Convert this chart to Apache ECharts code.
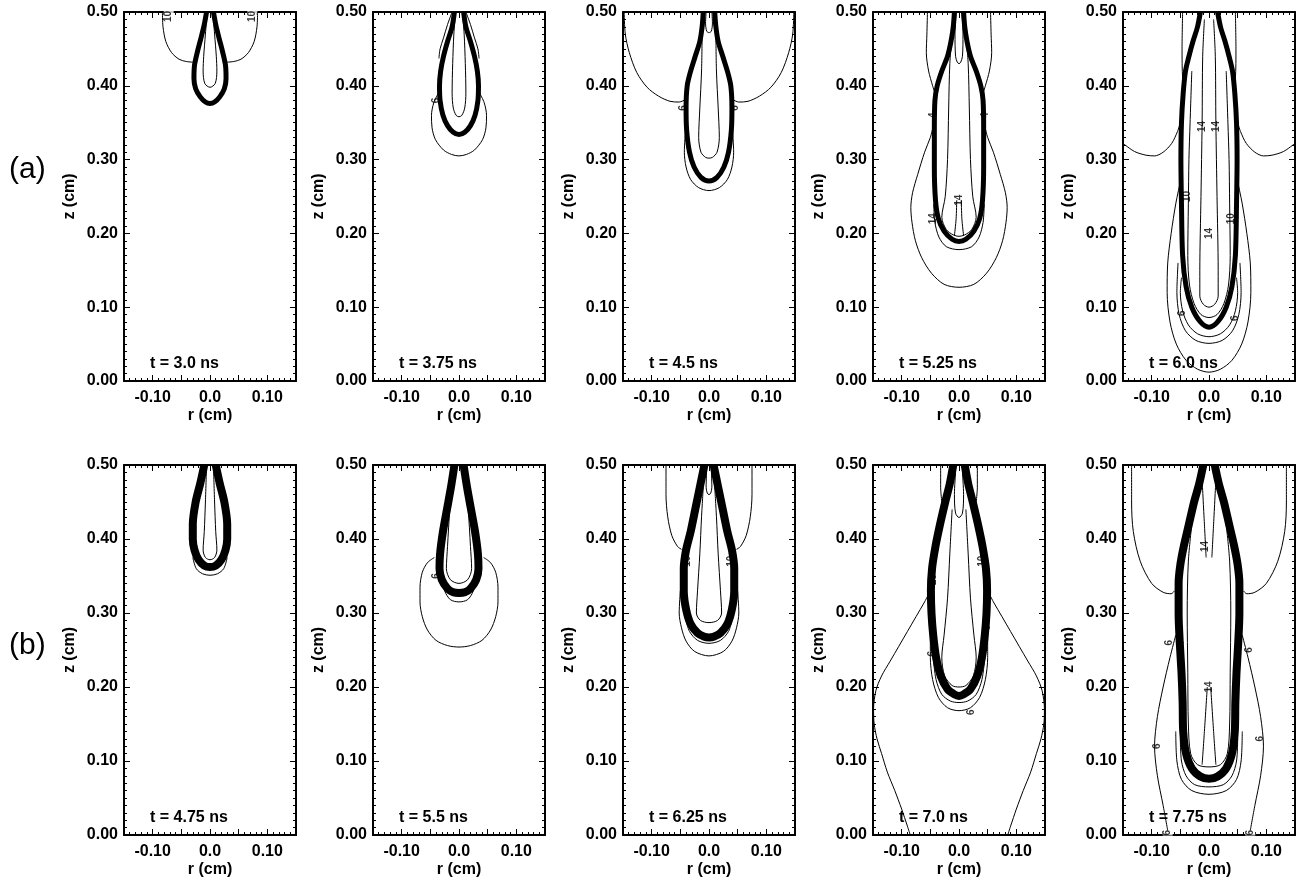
<!DOCTYPE html>
<html><head><meta charset="utf-8">
<script src="https://cdn.jsdelivr.net/npm/echarts@6/dist/echarts.min.js"></script>
<style>html,body{margin:0;padding:0;background:#fff}#c{width:1298px;height:882px}</style>
</head><body><div id="c"></div>
<script>
// ---- data (r, z in cm), half profiles r>=0 of axisymmetric contours ----
const TIMES = ['3.0', '3.75', '4.5', '5.25', '6.0', '4.75', '5.5', '6.25', '7.0', '7.75'];
const ROW_LABELS = ['(a)', '(b)'];
const R_TICK_LABELS = ['-0.10', '0.0', '0.10'];
const Z_TICK_LABELS = ['0.00', '0.10', '0.20', '0.30', '0.40', '0.50'];

// panel 1, t = 3.0 ns
const P1_THICK = [[0.006,0.5],[0.01,0.483],[0.016,0.464],[0.022,0.446],[0.027,0.428],[0.028,0.41],[0.025,0.396],[0.017,0.385],[0.008,0.378],[0,0.376]];
const P1_CLOSED = [[[0.005,0.5],[0.008,0.47],[0.011,0.44],[0.012,0.42],[0.009,0.403],[0,0.398]]];
const P1_OPEN = [[[0.083,0.5],[0.082,0.48],[0.077,0.46],[0.067,0.445],[0.054,0.436],[0.042,0.433],[0.03,0.432]]];
const P1_LABELS = [[-0.072,0.494,'10'],[0.074,0.494,'10']];
// panel 2, t = 3.75 ns
const P2_THICK = [[0.008,0.5],[0.012,0.48],[0.02,0.46],[0.027,0.44],[0.032,0.42],[0.034,0.40],[0.033,0.38],[0.028,0.36],[0.02,0.346],[0.01,0.337],[0,0.334]];
const P2_CLOSED = [
  [[0.006,0.5],[0.009,0.47],[0.011,0.43],[0.012,0.39],[0.01,0.37],[0.005,0.36],[0,0.358]],
  [[0.036,0.39],[0.044,0.377],[0.048,0.36],[0.047,0.343],[0.041,0.327],[0.027,0.313],[0.013,0.307],[0,0.305]]
];
const P2_OPEN = [[[0.012,0.5],[0.02,0.483],[0.027,0.465],[0.033,0.45],[0.035,0.437]]];
const P2_LABELS = [[-0.04,0.38,'6']];
// panel 3, t = 4.5 ns
const P3_THICK = [[0.01,0.5],[0.012,0.48],[0.016,0.46],[0.024,0.44],[0.032,0.42],[0.038,0.40],[0.04,0.37],[0.039,0.34],[0.034,0.31],[0.026,0.29],[0.014,0.276],[0,0.271]];
const P3_CLOSED = [
  [[0.005,0.5],[0.006,0.485],[0.004,0.474],[0,0.472]],
  [[0.012,0.47],[0.013,0.42],[0.016,0.37],[0.018,0.33],[0.014,0.31],[0.006,0.303],[0,0.302]],
  [[0.041,0.34],[0.043,0.31],[0.04,0.29],[0.032,0.273],[0.018,0.262],[0,0.258]]
];
const P3_OPEN = [[[0.148,0.5],[0.146,0.47],[0.139,0.445],[0.126,0.418],[0.108,0.398],[0.088,0.386],[0.068,0.379],[0.052,0.378],[0.042,0.381]]];
const P3_LABELS = [[-0.045,0.37,'6'],[0.045,0.37,'6']];
// panel 4, t = 5.25 ns
const P4_THICK = [[0.008,0.5],[0.01,0.48],[0.014,0.46],[0.02,0.44],[0.03,0.42],[0.038,0.40],[0.042,0.38],[0.043,0.34],[0.043,0.29],[0.041,0.245],[0.036,0.22],[0.026,0.203],[0.012,0.192],[0,0.189]];
const P4_CLOSED = [
  [[0.005,0.5],[0.007,0.47],[0.006,0.44],[0.003,0.432],[0,0.43]],
  [[0.012,0.47],[0.016,0.43],[0.018,0.37],[0.02,0.3],[0.024,0.25],[0.03,0.222],[0.022,0.205],[0.01,0.198],[0,0.196]],
  [[0.044,0.24],[0.042,0.215],[0.035,0.195],[0.022,0.182],[0,0.178]],
  [[0.045,0.345],[0.05,0.33],[0.06,0.31],[0.072,0.28],[0.081,0.255],[0.084,0.235],[0.082,0.215],[0.076,0.19],[0.065,0.167],[0.048,0.146],[0.026,0.131],[0,0.127]]
];
const P4_OPEN = [
  [[0.055,0.5],[0.056,0.47],[0.057,0.445],[0.053,0.42],[0.046,0.40],[0.042,0.39]],
  [[0.004,0.245],[0.005,0.22],[0.008,0.197]]
];
const P4_LABELS = [[0,0.245,'14'],[-0.045,0.22,'14'],[-0.045,0.36,'4'],[0.045,0.36,'4']];
// panel 5, t = 6.0 ns
const P5_THICK = [[0.015,0.5],[0.02,0.48],[0.028,0.46],[0.035,0.44],[0.041,0.42],[0.045,0.39],[0.048,0.35],[0.049,0.3],[0.048,0.24],[0.046,0.17],[0.04,0.128],[0.03,0.1],[0.015,0.08],[0,0.073]];
const P5_CLOSED = [
  [[0.008,0.49],[0.011,0.44],[0.012,0.35],[0.014,0.25],[0.016,0.15],[0.016,0.115],[0.01,0.104],[0,0.1]],
  [[0.03,0.42],[0.033,0.35],[0.035,0.3],[0.036,0.24],[0.037,0.17],[0.034,0.13],[0.026,0.105],[0.014,0.09],[0,0.086]],
  [[0.048,0.14],[0.05,0.12],[0.046,0.095],[0.036,0.076],[0.02,0.064],[0,0.06]],
  [[0.054,0.16],[0.056,0.12],[0.052,0.09],[0.041,0.068],[0.023,0.055],[0,0.051]],
  [[0.05,0.27],[0.058,0.24],[0.066,0.2],[0.072,0.16],[0.073,0.12],[0.068,0.08],[0.057,0.05],[0.04,0.028],[0.02,0.016],[0,0.012]]
];
const P5_OPEN = [
  [[0.046,0.5],[0.047,0.45],[0.046,0.41],[0.042,0.396]],
  [[0.15,0.322],[0.13,0.311],[0.11,0.306],[0.095,0.305],[0.08,0.31],[0.065,0.322],[0.055,0.338],[0.05,0.35]]
];
const P5_LABELS = [[-0.012,0.345,'14'],[0.012,0.345,'14'],[0,0.2,'14'],[-0.046,0.092,'6'],[0.046,0.085,'6'],[-0.038,0.25,'10'],[0.038,0.22,'10']];
// panel 6, t = 4.75 ns
const P6_THICK = [[0.01,0.5],[0.017,0.475],[0.025,0.45],[0.03,0.42],[0.03,0.40],[0.027,0.385],[0.02,0.372],[0.01,0.364],[0,0.362]];
const P6_CLOSED = [
  [[0.006,0.5],[0.008,0.45],[0.01,0.41],[0.012,0.385],[0.008,0.375],[0,0.372]],
  [[0.03,0.375],[0.024,0.36],[0.013,0.353],[0,0.351]]
];
const P6_OPEN = [];
const P6_LABELS = [];
// panel 7, t = 5.5 ns
const P7_THICK = [[0.008,0.5],[0.014,0.47],[0.021,0.44],[0.028,0.41],[0.033,0.38],[0.034,0.36],[0.03,0.345],[0.02,0.333],[0.01,0.328],[0,0.327]];
const P7_CLOSED = [
  [[0.01,0.48],[0.016,0.44],[0.02,0.39],[0.022,0.36],[0.015,0.345],[0,0.34]],
  [[0.03,0.35],[0.025,0.33],[0.015,0.318],[0,0.315]],
  [[0.043,0.375],[0.055,0.368],[0.064,0.355],[0.068,0.335],[0.068,0.315],[0.064,0.295],[0.055,0.277],[0.04,0.263],[0.02,0.256],[0,0.254]]
];
const P7_OPEN = [];
const P7_LABELS = [[-0.04,0.35,'6']];
// panel 8, t = 6.25 ns
const P8_THICK = [[0.008,0.5],[0.016,0.47],[0.024,0.44],[0.032,0.41],[0.04,0.385],[0.044,0.36],[0.044,0.33],[0.04,0.305],[0.032,0.285],[0.02,0.273],[0.008,0.268],[0,0.267]];
const P8_CLOSED = [
  [[0.004,0.495],[0.005,0.47],[0.003,0.462],[0,0.46]],
  [[0.01,0.47],[0.013,0.43],[0.016,0.38],[0.02,0.33],[0.022,0.3],[0.015,0.29],[0,0.287]],
  [[0.04,0.29],[0.034,0.275],[0.02,0.263],[0,0.259]],
  [[0.05,0.33],[0.052,0.3],[0.048,0.28],[0.04,0.262],[0.025,0.248],[0,0.242]]
];
const P8_OPEN = [[[0.075,0.5],[0.075,0.46],[0.072,0.43],[0.065,0.405],[0.055,0.39],[0.048,0.386]]];
const P8_LABELS = [[-0.038,0.37,'10'],[0.038,0.37,'10']];
// panel 9, t = 7.0 ns
const P9_THICK = [[0.01,0.5],[0.016,0.475],[0.024,0.45],[0.033,0.42],[0.041,0.39],[0.047,0.36],[0.049,0.33],[0.048,0.3],[0.045,0.27],[0.04,0.24],[0.032,0.215],[0.02,0.197],[0.008,0.19],[0,0.188]];
const P9_CLOSED = [
  [[0.006,0.49],[0.008,0.46],[0.006,0.435],[0,0.429]],
  [[0.012,0.44],[0.016,0.38],[0.02,0.32],[0.026,0.27],[0.03,0.24],[0.025,0.215],[0.012,0.202],[0,0.2]],
  [[0.045,0.24],[0.04,0.21],[0.03,0.19],[0.015,0.181],[0,0.179]],
  [[0.05,0.28],[0.05,0.24],[0.046,0.21],[0.036,0.186],[0.02,0.172],[0,0.168]]
];
const P9_OPEN = [
  [[0.032,0.5],[0.032,0.47],[0.03,0.45]],
  [[0.05,0.33],[0.06,0.315],[0.075,0.295],[0.09,0.275],[0.105,0.255],[0.12,0.235],[0.135,0.215],[0.145,0.195],[0.149,0.17],[0.148,0.15],[0.143,0.13],[0.135,0.11],[0.125,0.085],[0.112,0.06],[0.1,0.035],[0.09,0.012],[0.085,0]]
];
const P9_LABELS = [[0.022,0.166,'6'],[-0.046,0.245,'6'],[0.05,0.28,'6'],[-0.045,0.345,'10'],[0.04,0.37,'10']];
// panel 10, t = 7.75 ns
const P10_THICK = [[0.01,0.5],[0.017,0.475],[0.026,0.45],[0.035,0.42],[0.044,0.39],[0.05,0.365],[0.053,0.34],[0.053,0.3],[0.051,0.26],[0.048,0.22],[0.046,0.18],[0.045,0.14],[0.04,0.11],[0.03,0.09],[0.015,0.079],[0,0.076]];
const P10_CLOSED = [
  [[0.03,0.42],[0.036,0.37],[0.038,0.3],[0.037,0.22],[0.036,0.15],[0.032,0.11],[0.02,0.095],[0,0.092]],
  [[0.05,0.13],[0.048,0.1],[0.04,0.08],[0.025,0.068],[0,0.065]],
  [[0.058,0.14],[0.056,0.1],[0.048,0.075],[0.03,0.06],[0,0.055]]
];
const P10_OPEN = [
  [[0.135,0.5],[0.135,0.45],[0.132,0.41],[0.12,0.37],[0.1,0.34],[0.08,0.328],[0.066,0.326],[0.06,0.33]],
  [[0.058,0.27],[0.068,0.24],[0.08,0.2],[0.09,0.16],[0.095,0.12],[0.09,0.08],[0.08,0.04],[0.072,0.006]],
  [[0.012,0.48],[0.008,0.42],[0.005,0.375]],
  [[0.003,0.2],[0.008,0.14],[0.012,0.095]]
];
const P10_LABELS = [[-0.007,0.39,'14'],[0,0.2,'14'],[-0.07,0.26,'6'],[0.07,0.25,'6'],[-0.09,0.12,'6'],[0.09,0.13,'6'],[-0.072,0.003,'6'],[0.072,0.003,'6']];

const PANELS = [
  {thick:P1_THICK, closed:P1_CLOSED, open:P1_OPEN, labels:P1_LABELS},
  {thick:P2_THICK, closed:P2_CLOSED, open:P2_OPEN, labels:P2_LABELS},
  {thick:P3_THICK, closed:P3_CLOSED, open:P3_OPEN, labels:P3_LABELS},
  {thick:P4_THICK, closed:P4_CLOSED, open:P4_OPEN, labels:P4_LABELS},
  {thick:P5_THICK, closed:P5_CLOSED, open:P5_OPEN, labels:P5_LABELS},
  {thick:P6_THICK, closed:P6_CLOSED, open:P6_OPEN, labels:P6_LABELS},
  {thick:P7_THICK, closed:P7_CLOSED, open:P7_OPEN, labels:P7_LABELS},
  {thick:P8_THICK, closed:P8_CLOSED, open:P8_OPEN, labels:P8_LABELS},
  {thick:P9_THICK, closed:P9_CLOSED, open:P9_OPEN, labels:P9_LABELS},
  {thick:P10_THICK, closed:P10_CLOSED, open:P10_OPEN, labels:P10_LABELS}
];

// ---- layout ----
const COL_LEFT = [124, 373, 623, 873, 1123];
const GRID_W = 172;
const ROW_TOP = [12, 465];
const ROW_H = [369, 370];
const FONT = '"Liberation Sans", Arial, sans-serif';

function mirrorU(half) { // left branch (mirrored) + right branch
  const left = half.map(p => [-p[0], p[1]]);
  const right = half.slice(0, -1).reverse();
  return left.concat(right);
}
function mirror(half) { return half.map(p => [-p[0], p[1]]); }
function rLabel(v) {
  const k = Math.round(v * 100);
  if (k === -10) return R_TICK_LABELS[0];
  if (k === 0) return R_TICK_LABELS[1];
  if (k === 10) return R_TICK_LABELS[2];
  return '';
}
function zLabel(v) { return Z_TICK_LABELS[Math.round(v * 10)] || ''; }

const grids = [], xAxes = [], yAxes = [], series = [], graphics = [];
const txt = {color:'#000', fontFamily:FONT, fontWeight:'bold', fontSize:16};
PANELS.forEach((p, i) => {
  const row = i < 5 ? 0 : 1, col = i % 5;
  const left = COL_LEFT[col], top = ROW_TOP[row], h = ROW_H[row];
  grids.push({left:left, top:top, width:GRID_W, height:h, show:false});
  const axLine = {onZero:false, lineStyle:{color:'#000', width:2}};
  const tick = {inside:true, length:6, lineStyle:{color:'#000', width:1}};
  const minorX = {show:true, splitNumber:5, length:3, lineStyle:{color:'#000', width:1}};
  const minorY = {show:true, splitNumber:10, length:3, lineStyle:{color:'#000', width:1}};
  xAxes.push({gridIndex:i, type:'value', position:'bottom', min:-0.15, max:0.15, interval:0.05,
    axisLine:axLine, axisTick:tick, minorTick:minorX, splitLine:{show:false},
    axisLabel:Object.assign({formatter:rLabel, margin:9, showMinLabel:true, showMaxLabel:true}, txt),
    name:'r (cm)', nameLocation:'middle', nameGap:27, nameTextStyle:txt});
  xAxes.push({gridIndex:i, type:'value', position:'top', min:-0.15, max:0.15, interval:0.05,
    axisLine:axLine, axisTick:tick, minorTick:minorX, splitLine:{show:false}, axisLabel:{show:false}});
  yAxes.push({gridIndex:i, type:'value', position:'left', min:0, max:0.5, interval:0.1,
    axisLine:axLine, axisTick:tick, minorTick:minorY, splitLine:{show:false},
    axisLabel:Object.assign({formatter:zLabel, margin:6}, txt),
    name:'z (cm)', nameLocation:'middle', nameGap:46, nameTextStyle:txt});
  yAxes.push({gridIndex:i, type:'value', position:'right', min:0, max:0.5, interval:0.1,
    axisLine:axLine, axisTick:tick, minorTick:minorY, splitLine:{show:false}, axisLabel:{show:false}});

  const base = {type:'line', xAxisIndex:2*i, yAxisIndex:2*i, showSymbol:false, symbol:'none',
    smooth:0.3, silent:true, animation:false, clip:true};
  p.closed.forEach(hf => series.push(Object.assign({}, base, {data:mirrorU(hf), lineStyle:{color:'#000', width:1}})));
  p.open.forEach(hf => {
    series.push(Object.assign({}, base, {data:hf, lineStyle:{color:'#000', width:1}}));
    series.push(Object.assign({}, base, {data:mirror(hf), lineStyle:{color:'#000', width:1}}));
  });
  series.push(Object.assign({}, base, {data:mirrorU(p.thick), lineStyle:{color:'#000', width: row === 0 ? 5 : 8}}));
  if (p.labels.length) {
    series.push({type:'scatter', xAxisIndex:2*i, yAxisIndex:2*i, silent:true, animation:false,
      symbolSize:0, data:p.labels,
      label:{show:true, formatter:d => d.data[2], rotate:90, color:'#000', fontFamily:FONT,
        fontWeight:'bold', fontSize:10, position:'inside', backgroundColor:'#fff', padding:[0,0]}});
  }
  graphics.push({type:'text', left:left + 26, top:top + h - 25,
    style:{text:'t = ' + TIMES[i] + ' ns', fill:'#000', font:'bold 16px ' + FONT}});
});
ROW_LABELS.forEach((t, k) => {
  graphics.push({type:'text', left:9, top: k === 0 ? 155 : 631,
    style:{text:t, fill:'#000', font:'30px ' + FONT}});
});

const chart = echarts.init(document.getElementById('c'), null, {renderer:'canvas'});
chart.setOption({animation:false, backgroundColor:'#fff', grid:grids, xAxis:xAxes, yAxis:yAxes,
  series:series, graphic:graphics});
</script></body></html>
